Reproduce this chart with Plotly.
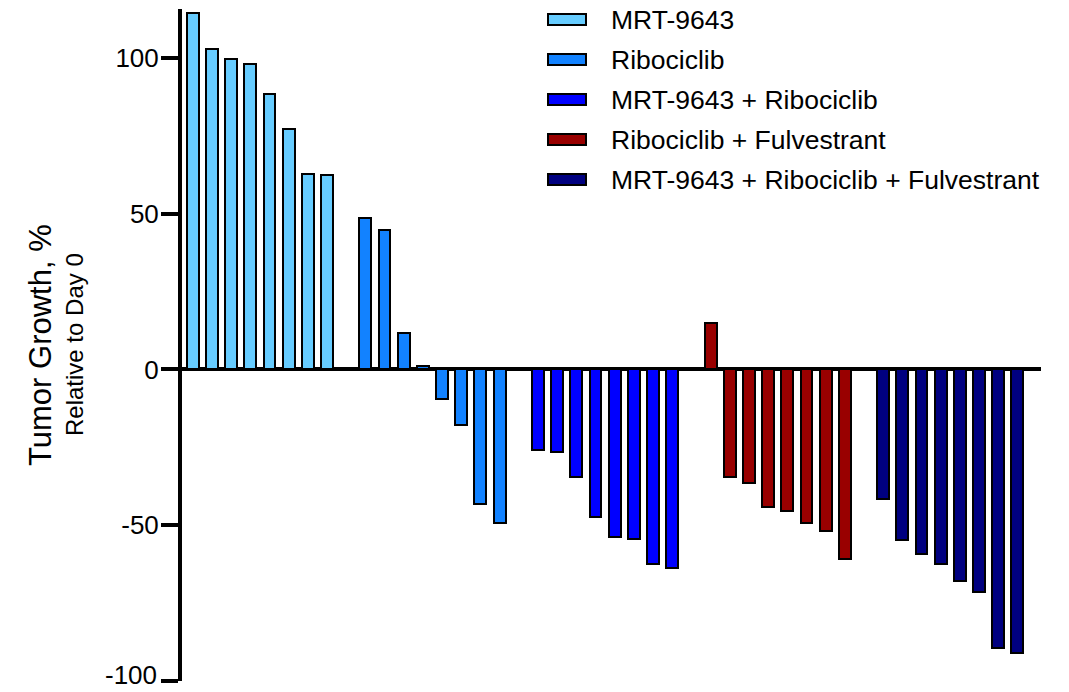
import plotly.graph_objects as go

# ---- data ----
groups = ["MRT-9643", "Ribociclib", "MRT-9643 + Ribociclib",
          "Ribociclib + Fulvestrant", "MRT-9643 + Ribociclib + Fulvestrant"]
colors = ["#66CCFF", "#1282FF", "#0000FF", "#990000", "#000080"]

mrt = [114.4, 102.9, 99.7, 98.2, 88.3, 77.3, 62.8, 62.4]
ribo = [48.6, 44.8, 11.6, 1.1, -9.5, -17.8, -43.3, -49.4]
mrt_ribo = [-26.0, -26.5, -34.5, -47.3, -53.7, -54.4, -62.5, -63.8]
ribo_fulv = [14.9, -34.5, -36.6, -44.1, -45.5, -49.3, -51.8, -60.8]
triple = [-41.7, -54.8, -59.3, -62.4, -67.9, -71.5, -89.5, -91.1]
values = [mrt, ribo, mrt_ribo, ribo_fulv, triple]

tick_vals = [-100, -50, 0, 50, 100]
tick_text = ["-100", "-50", "0", "50", "100"]

title_main = "Tumor Growth, %"
title_sub = "Relative to Day 0"

FONT = "Liberation Sans, Arial, sans-serif"
W, H = 1069, 692
ML, MR, MT, MB = 182, 28, 9, 11

fig = go.Figure()
pos = 0
for name, col, vals in zip(groups, colors, values):
    xs = list(range(pos, pos + len(vals)))
    fig.add_trace(go.Bar(x=xs, y=vals, name=name, width=0.62,
                         marker=dict(color=col, line=dict(color="black", width=2)),
                         showlegend=False))
    pos += len(vals) + 1

# ---- pixel -> paper helpers ----
pw = W - ML - MR
ph = H - MT - MB
def px_x(p):
    return (p - ML) / pw
def px_y(p):
    return 1 - (p - MT) / ph

# ---- manual legend ----
row_y = [19.5, 59.5, 99.5, 139.5, 179.5]
for name, col, yy in zip(groups, colors, row_y):
    fig.add_shape(type="rect", xref="paper", yref="paper",
                  x0=px_x(548), x1=px_x(586), y0=px_y(yy - 5.5), y1=px_y(yy + 5.5),
                  fillcolor=col, line=dict(color="black", width=2))
    fig.add_annotation(xref="paper", yref="paper", x=px_x(609), y=px_y(yy),
                       text=name, showarrow=False, xanchor="left", yanchor="middle",
                       font=dict(family=FONT, size=26.5, color="black"))

# ---- y-axis title (two lines, two sizes) ----
fig.add_annotation(xref="paper", yref="paper", x=px_x(40), y=0.5, text=title_main,
                   textangle=-90, showarrow=False, xanchor="center", yanchor="middle",
                   font=dict(family=FONT, size=31, color="black"))
fig.add_annotation(xref="paper", yref="paper", x=px_x(74), y=0.5, text=title_sub,
                   textangle=-90, showarrow=False, xanchor="center", yanchor="middle",
                   font=dict(family=FONT, size=24, color="black"))

# the lowest tick label sits on the page edge: draw it slightly lifted so it is not clipped
shown_text = [("" if v == tick_vals[0] else t) for v, t in zip(tick_vals, tick_text)]
fig.add_annotation(xref="paper", yref="paper", x=px_x(159), y=px_y(692),
                   text=tick_text[0], showarrow=False, xanchor="right", yanchor="bottom",
                   font=dict(family=FONT, size=26, color="black"))

fig.update_layout(
    width=W, height=H, template="none",
    margin=dict(l=ML, r=MR, t=MT, b=MB, autoexpand=False),
    paper_bgcolor="white", plot_bgcolor="white",
    bargap=0, showlegend=False,
    font=dict(family=FONT, color="black"),
)
fig.update_xaxes(range=[-0.56, 44.23], showticklabels=False, showgrid=False,
                 zeroline=False, showline=False, ticks="", automargin=False)
fig.update_yaxes(range=[-100, 115.7], tickvals=tick_vals, ticktext=shown_text,
                 showgrid=False, zeroline=True, zerolinecolor="black", zerolinewidth=4,
                 showline=True, linecolor="black", linewidth=4,
                 ticks="outside", ticklen=17, tickwidth=4, tickcolor="black",
                 tickfont=dict(family=FONT, size=26, color="black"),
                 ticklabelstandoff=-3, ticklabeloverflow="allow",
                 automargin=False)

fig.write_html("out.html", config={"displayModeBar": False},
               post_script="document.body.style.margin='0';")
